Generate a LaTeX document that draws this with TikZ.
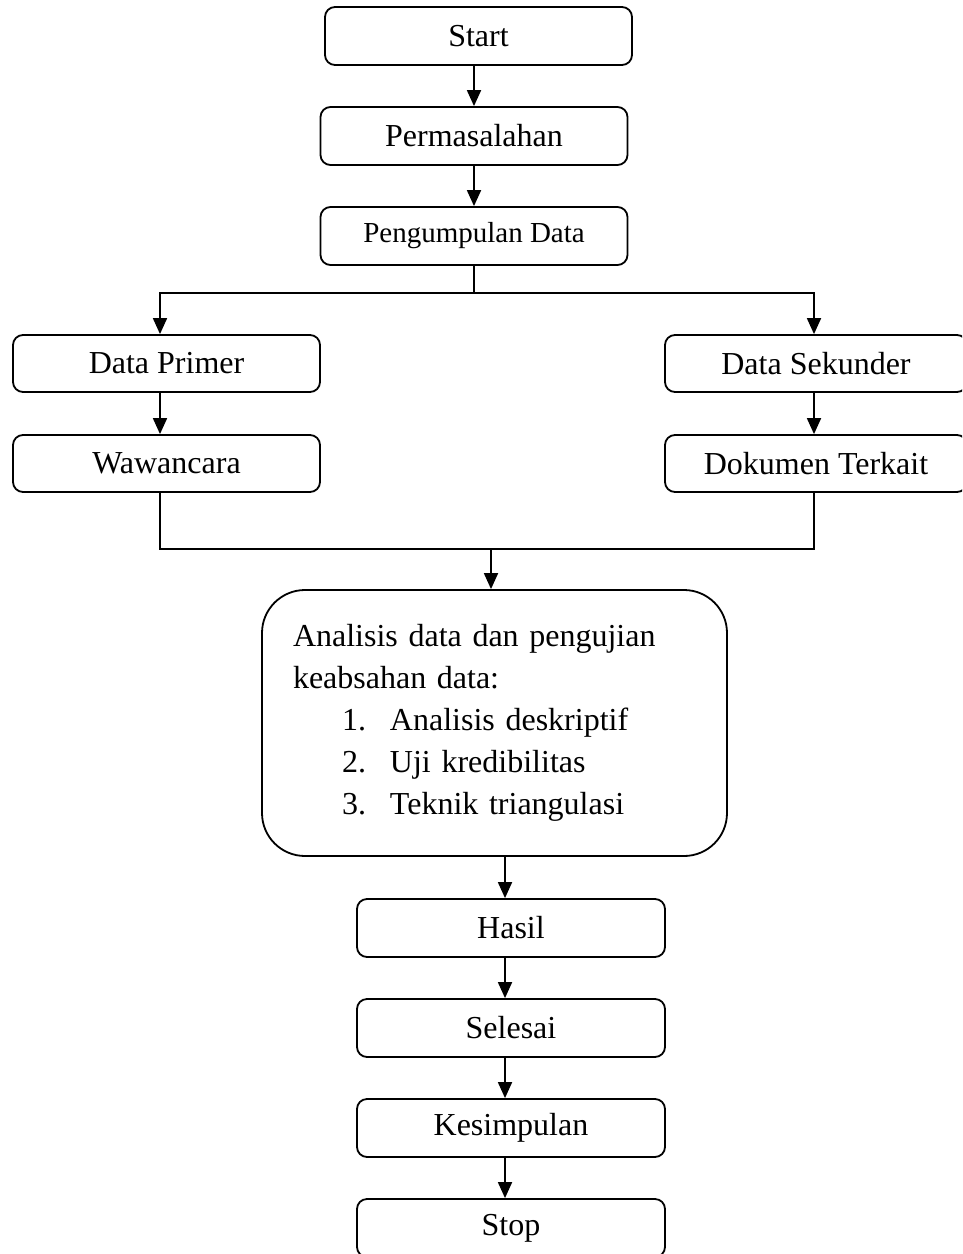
\documentclass[tikz,border=0pt]{standalone}
\usepackage{fontspec}
\setmainfont{Liberation Serif}
\usetikzlibrary{arrows.meta}
\newcommand{\boxwidth}{307pt}
\newcommand{\lw}{1.8pt}

\begin{document}
\begin{tikzpicture}[x=1pt,y=-1pt,
  stepbox/.style={draw, line width=\lw, rounded corners=10pt, minimum width=\boxwidth,
    minimum height=58pt, inner sep=0pt, font=\fontsize{32}{38}\selectfont},
  bigbox/.style={draw, line width=\lw, rounded corners=43pt, minimum width=465pt,
    minimum height=266pt, inner sep=0pt, text width=403pt, align=left,
    font=\fontsize{32}{42}\selectfont},
  arr/.style={line width=\lw, -{Triangle[width=14pt,length=16pt]}},
  wire/.style={line width=\lw}]

\useasboundingbox (0,0) rectangle (962,1254);
\clip (0,0) rectangle (962,1254);

%% Top chain
\node[stepbox] (start) at (478.5,36) {Start};
\node[stepbox] (masalah) at (474,136) {Permasalahan};
\node[stepbox, font=\fontsize{29}{35}\selectfont] (kumpul) at (474,236) {Pengumpulan Data};

%% Left and right columns
\node[stepbox, minimum height=57pt] (primer) at (166.5,363.5) {Data Primer};
\node[stepbox, minimum height=57pt] (wawancara) at (166.5,463.5) {Wawancara};
\node[stepbox, minimum height=57pt, minimum width=302pt] (sekunder) at (816,363.5) {Data Sekunder};
\node[stepbox, minimum height=57pt, minimum width=302pt] (dokumen) at (816,463.5) {Dokumen Terkait};

%% Analysis box
\node[bigbox] (analisis) at (494.5,723) {Analisis data dan pengujian\\
keabsahan data:\\
\hspace*{49pt}\makebox[48pt][l]{1.}Analisis deskriptif\\
\hspace*{49pt}\makebox[48pt][l]{2.}Uji kredibilitas\\
\hspace*{49pt}\makebox[48pt][l]{3.}Teknik triangulasi};

%% Bottom chain
\node[stepbox, minimum width=308pt] (hasil) at (511,928) {Hasil};
\node[stepbox, minimum width=308pt] (selesai) at (511,1028) {Selesai};
\node[stepbox, minimum width=308pt] (simpul) at (511,1128) {Kesimpulan};
\node[stepbox, minimum width=308pt] (stop) at (511,1228) {Stop};

%% Helper coordinates for the branches
\coordinate (split) at (474,293);
\coordinate (lcol) at (160,293);
\coordinate (rcol) at (814,293);
\coordinate (merge) at (491,549);
\coordinate (spine) at (505,0);

%% Arrows of the top chain
\draw[arr] (start.south -| masalah.north) -- (masalah.north);
\draw[arr] (masalah.south) -- (kumpul.north);
\draw[wire] (kumpul.south) -- (split);

%% Split into primary and secondary data
\draw[arr] (split) -- (lcol) -- (lcol |- primer.north);
\draw[arr] (split) -- (rcol) -- (rcol |- sekunder.north);
\draw[arr] (primer.south -| lcol) -- (wawancara.north -| lcol);
\draw[arr] (sekunder.south -| rcol) -- (dokumen.north -| rcol);

%% Merge both columns into the analysis
\draw[wire] (wawancara.south -| lcol) |- (merge) -| (dokumen.south -| rcol);
\draw[arr] (merge) -- (merge |- analisis.north);

%% Arrows of the bottom chain
\draw[arr] (analisis.south -| spine) -- (hasil.north -| spine);
\draw[arr] (hasil.south -| spine) -- (selesai.north -| spine);
\draw[arr] (selesai.south -| spine) -- (simpul.north -| spine);
\draw[arr] (simpul.south -| spine) -- (stop.north -| spine);

\end{tikzpicture}
\end{document}
